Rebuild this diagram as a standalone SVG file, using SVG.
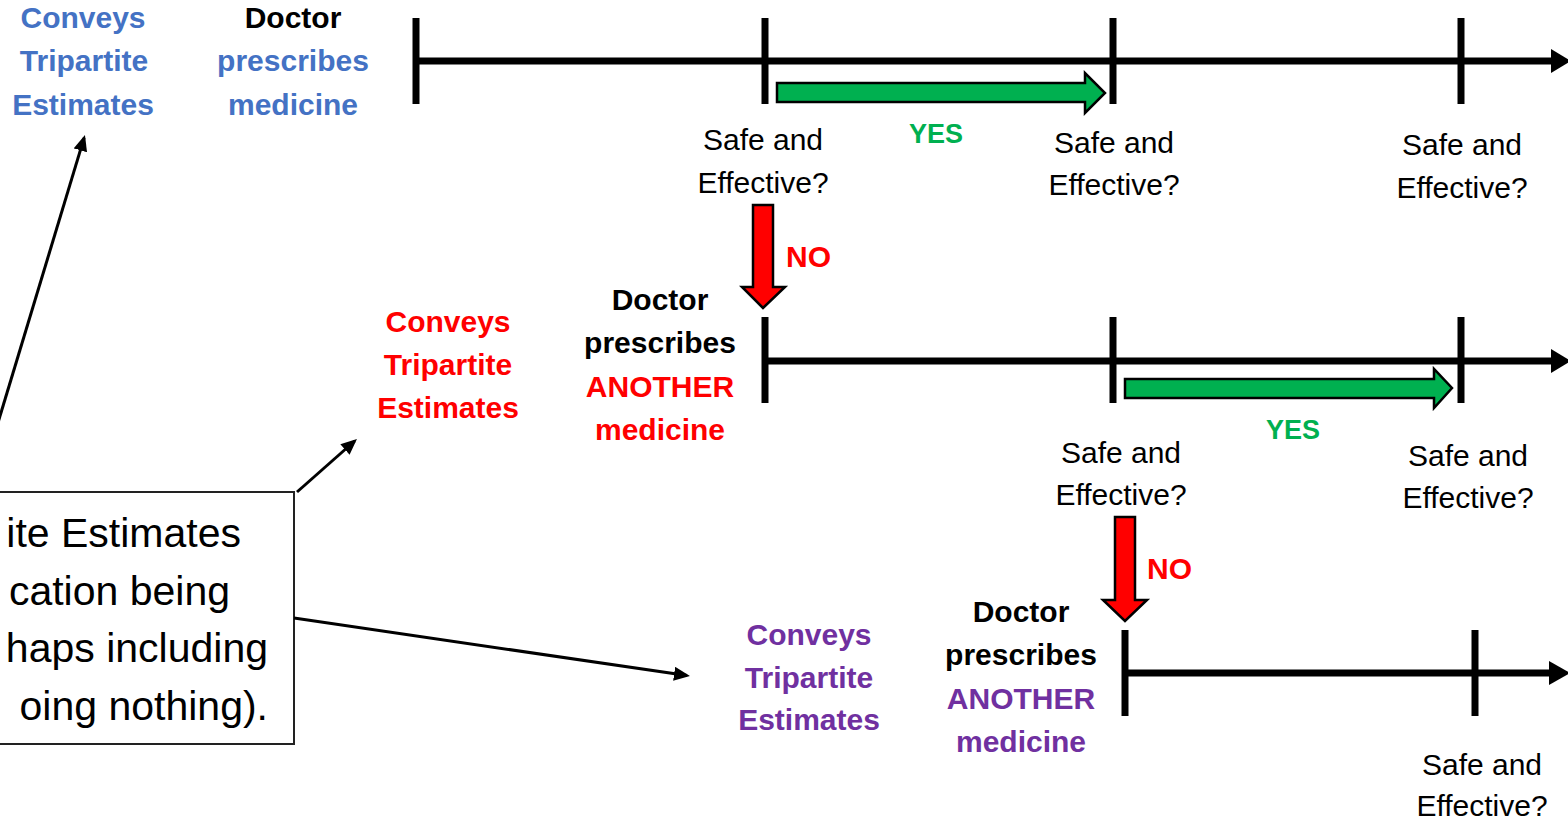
<svg xmlns="http://www.w3.org/2000/svg" width="1568" height="821" viewBox="0 0 1568 821">
  <style>
    text { font-family: "Liberation Sans", Arial, sans-serif; text-anchor: middle; }
    .b { font-weight: bold; font-size: 30px; }
    .r { font-size: 30px; fill: #000; }
    .box { font-size: 41px; fill: #000; text-anchor: end; }
    .blue { fill: #4472C4; }
    .red { fill: #FF0000; }
    .green { fill: #00B050; }
    .purple { fill: #7030A0; }
    .blk { fill: #000; }
    .axis { stroke: #000; stroke-width: 7; fill: none; }
    .tick { stroke: #000; stroke-width: 7; }
    .head { fill: #000; }
    .yes { fill: #00B050; stroke: #000; stroke-width: 2.5; stroke-linejoin: miter; }
    .no { fill: #FF0000; stroke: #000; stroke-width: 2.5; stroke-linejoin: miter; }
    .conn { stroke: #000; stroke-width: 3; fill: none; }
  </style>
  <defs>
    <marker id="arr" markerUnits="userSpaceOnUse" markerWidth="20" markerHeight="16" refX="13" refY="7" orient="auto">
      <path d="M0,0 L16,7 L0,14 z" fill="#000"/>
    </marker>
  </defs>

  <rect width="1568" height="821" fill="#fff"/>

  <!-- timeline 1 -->
  <g id="timeline1">
    <line class="axis" x1="416" y1="61" x2="1554" y2="61"/>
    <polygon class="head" points="1551,49 1571,61 1551,73"/>
    <line class="tick" x1="416" y1="18" x2="416" y2="104"/>
    <line class="tick" x1="765" y1="18" x2="765" y2="104"/>
    <line class="tick" x1="1113" y1="18" x2="1113" y2="104"/>
    <line class="tick" x1="1461" y1="18" x2="1461" y2="104"/>
  </g>

  <!-- timeline 2 -->
  <g id="timeline2">
    <line class="axis" x1="765" y1="361" x2="1554" y2="361"/>
    <polygon class="head" points="1551,349 1571,361 1551,373"/>
    <line class="tick" x1="765" y1="317" x2="765" y2="403"/>
    <line class="tick" x1="1113" y1="317" x2="1113" y2="403"/>
    <line class="tick" x1="1461" y1="317" x2="1461" y2="403"/>
  </g>

  <!-- timeline 3 -->
  <g id="timeline3">
    <line class="axis" x1="1125" y1="673" x2="1552" y2="673"/>
    <polygon class="head" points="1549,661 1570,673 1549,685"/>
    <line class="tick" x1="1125" y1="630" x2="1125" y2="716"/>
    <line class="tick" x1="1475" y1="630" x2="1475" y2="716"/>
  </g>

  <!-- decision arrows -->
  <g id="yes1">
    <polygon class="yes" points="777,83 1085,83 1085,73 1105,93 1085,113 1085,102 777,102"/>
    <text class="b green" x="936" y="143" style="font-size:27px">YES</text>
  </g>
  <g id="no1">
    <polygon class="no" points="753,205 773,205 773,287 785,287 763,308 742,287 753,287"/>
    <text class="b red" x="786" y="267" style="text-anchor:start">NO</text>
  </g>
  <g id="yes2">
    <polygon class="yes" points="1125,379 1434,379 1434,369 1452,388 1434,408 1434,398 1125,398"/>
    <text class="b green" x="1293" y="439" style="font-size:27px">YES</text>
  </g>
  <g id="no2">
    <polygon class="no" points="1115,517 1135,517 1135,600 1147,600 1125,621 1103,600 1115,600"/>
    <text class="b red" x="1147" y="579" style="text-anchor:start">NO</text>
  </g>

  <!-- question labels -->
  <g id="q1a"><text class="r" x="763" y="150">Safe and</text><text class="r" x="763" y="193">Effective?</text></g>
  <g id="q1b"><text class="r" x="1114" y="153">Safe and</text><text class="r" x="1114" y="195">Effective?</text></g>
  <g id="q1c"><text class="r" x="1462" y="155">Safe and</text><text class="r" x="1462" y="198">Effective?</text></g>
  <g id="q2a"><text class="r" x="1121" y="463">Safe and</text><text class="r" x="1121" y="505">Effective?</text></g>
  <g id="q2b"><text class="r" x="1468" y="466">Safe and</text><text class="r" x="1468" y="508">Effective?</text></g>
  <g id="q3a"><text class="r" x="1482" y="775">Safe and</text><text class="r" x="1482" y="816">Effective?</text></g>

  <!-- prescription labels -->
  <g id="rx1">
    <text class="b blk" x="293" y="28">Doctor</text>
    <text class="b blue" x="293" y="71">prescribes</text>
    <text class="b blue" x="293" y="115">medicine</text>
  </g>
  <g id="rx2">
    <text class="b blk" x="660" y="310">Doctor</text>
    <text class="b blk" x="660" y="353">prescribes</text>
    <text class="b red" x="660" y="397">ANOTHER</text>
    <text class="b red" x="660" y="440">medicine</text>
  </g>
  <g id="rx3">
    <text class="b blk" x="1021" y="622">Doctor</text>
    <text class="b blk" x="1021" y="665">prescribes</text>
    <text class="b purple" x="1021" y="709">ANOTHER</text>
    <text class="b purple" x="1021" y="752">medicine</text>
  </g>

  <!-- estimate labels -->
  <g id="est1">
    <text class="b blue" x="83" y="28">Conveys</text>
    <text class="b blue" x="84" y="71">Tripartite</text>
    <text class="b blue" x="83" y="115">Estimates</text>
  </g>
  <g id="est2">
    <text class="b red" x="448" y="332">Conveys</text>
    <text class="b red" x="448" y="375">Tripartite</text>
    <text class="b red" x="448" y="418">Estimates</text>
  </g>
  <g id="est3">
    <text class="b purple" x="809" y="645">Conveys</text>
    <text class="b purple" x="809" y="688">Tripartite</text>
    <text class="b purple" x="809" y="730">Estimates</text>
  </g>

  <!-- callout box -->
  <g id="callout">
    <rect x="-20" y="492" width="314" height="252" fill="#fff" stroke="#222" stroke-width="2"/>
    <text class="box" x="241" y="547">ite Estimates</text>
    <text class="box" x="230" y="605">cation being</text>
    <text class="box" x="268" y="662">haps including</text>
    <text class="box" x="268" y="720">oing nothing).</text>
  </g>

  <!-- connectors -->
  <g id="connectors">
    <line class="conn" x1="-23" y1="492" x2="84.1" y2="137.9" marker-end="url(#arr)"/>
    <line class="conn" x1="297" y1="492" x2="354.7" y2="441" marker-end="url(#arr)"/>
    <line class="conn" x1="294" y1="618" x2="687" y2="675.6" marker-end="url(#arr)"/>
  </g>
</svg>
